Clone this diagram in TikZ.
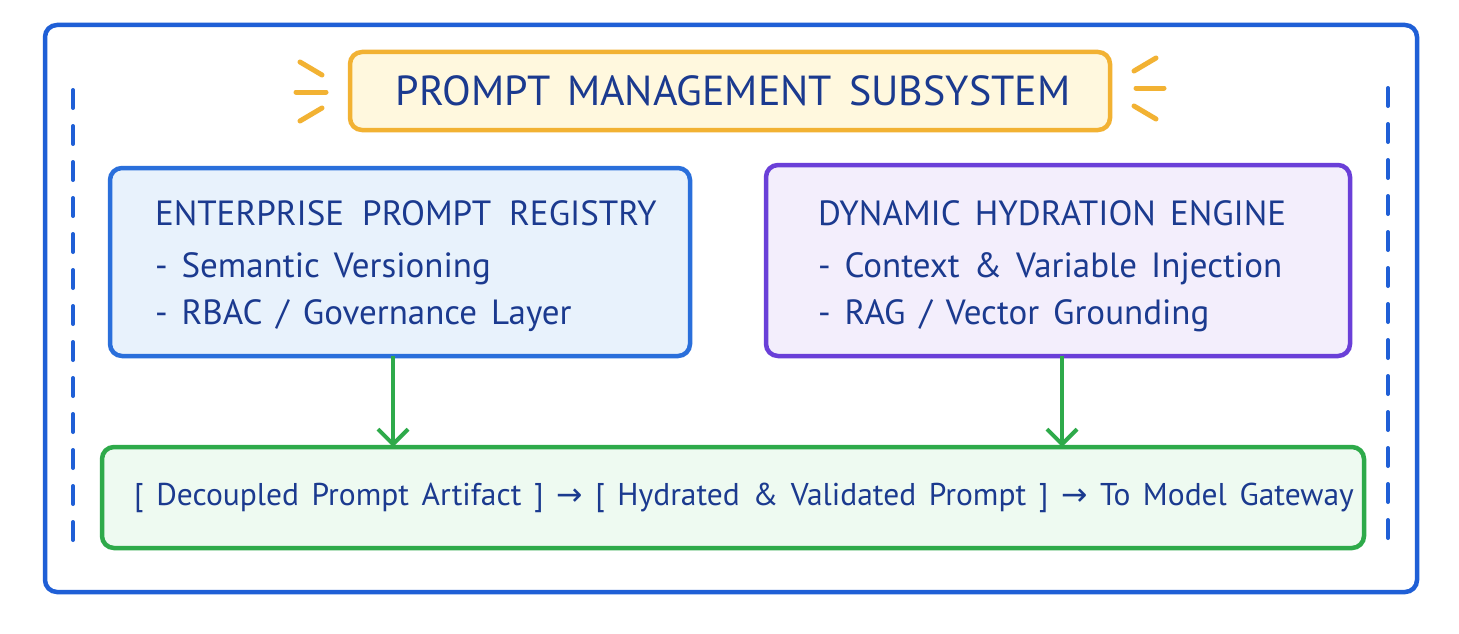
\documentclass[tikz,border=0pt]{standalone}
\usepackage{fontspec}
\setmainfont{PT Sans}[WordSpace=1.5]
\newfontfamily\symf{DejaVu Sans}
\usetikzlibrary{arrows.meta}
\definecolor{ink}{HTML}{1B3A8F}
\definecolor{frameblue}{HTML}{1F5FD6}
\definecolor{regblue}{HTML}{2A6FDB}
\definecolor{regfill}{HTML}{E8F2FC}
\definecolor{purp}{HTML}{6A3FD8}
\definecolor{purpfill}{HTML}{F3EEFC}
\definecolor{grn}{HTML}{2EAA4A}
\definecolor{grnfill}{HTML}{EEFAF1}
\definecolor{gold}{HTML}{F2B233}
\definecolor{goldfill}{HTML}{FFF8DE}
\tikzset{
  boxbase/.style={draw, rounded corners=12pt, line width=4.5pt, inner sep=0pt, outer sep=0pt},
  txt/.style={text=ink, inner sep=0pt, outer sep=0pt},
  bodytxt/.style={txt, anchor=base west, font=\fontsize{35}{35}\selectfont},
  flowarrow/.style={draw=grn, line width=4pt, -{Straight Barb[length=15pt,width=30pt,line width=4pt]}},
  ray/.style={draw=gold, line width=5pt, line cap=round},
  sidedash/.style={draw=frameblue, line width=4pt, line cap=round, dash pattern=on 18pt off 18pt}
}
\begin{document}
\begin{tikzpicture}[x=1pt,y=-1pt]
\useasboundingbox (0,0) rectangle (1459,634);
\fill[white] (0,0) rectangle (1459,634);
% outer frame
\node[boxbase, draw=frameblue, minimum width=1372pt, minimum height=567pt] (outer) at (731,308.5) {};
% side dashes
\coordinate (ldt) at (73,90); \coordinate (ldb) at (73,555);
\coordinate (rdt) at (1388,88); \coordinate (rdb) at (1388,555);
\draw[sidedash] (ldt) -- (ldb);
\draw[sidedash] (rdt) -- (rdb);
% title
\node[boxbase, draw=gold, fill=goldfill, minimum width=760pt, minimum height=78pt] (title) at (730,91) {};
\node[txt, font=\fontsize{42}{42}\selectfont] (titletxt) at (733,91) {PROMPT MANAGEMENT SUBSYSTEM};
% rays
\coordinate (l1a) at (300,62); \coordinate (l1b) at (322,75);
\coordinate (l2a) at (296,92); \coordinate (l2b) at (326,92);
\coordinate (l3a) at (300,121); \coordinate (l3b) at (322,108);
\coordinate (r1a) at (1156,58); \coordinate (r1b) at (1134,71);
\coordinate (r2a) at (1164,88); \coordinate (r2b) at (1136,88);
\coordinate (r3a) at (1156,119); \coordinate (r3b) at (1134,106);
\draw[ray] (l1a) -- (l1b); \draw[ray] (l2a) -- (l2b); \draw[ray] (l3a) -- (l3b);
\draw[ray] (r1a) -- (r1b); \draw[ray] (r2a) -- (r2b); \draw[ray] (r3a) -- (r3b);
% registry
\node[boxbase, draw=regblue, fill=regfill, minimum width=580pt, minimum height=188pt] (reg) at (400,262) {};
\node[bodytxt] (reg1) at (155,225) {ENTERPRISE\hspace{4pt} PROMPT\hspace{4pt} REGISTRY};
\node[bodytxt] (reg2) at (155,277) {- Semantic Versioning};
\node[bodytxt] (reg3) at (155,324) {- RBAC / Governance Layer};
% hydration
\node[boxbase, draw=purp, fill=purpfill, minimum width=584pt, minimum height=191pt] (hyd) at (1058,260.5) {};
\node[bodytxt] (hyd1) at (818,225) {DYNAMIC HYDRATION ENGINE};
\node[bodytxt] (hyd2) at (818,277) {- Context \& Variable Injection};
\node[bodytxt] (hyd3) at (818,324) {- RAG / Vector Grounding};
% bottom
\node[boxbase, draw=grn, fill=grnfill, minimum width=1262pt, minimum height=101pt] (art) at (733,497.5) {};
\node[txt, font=\fontsize{31.5}{31.5}\selectfont] (arttxt) at (744,498) {[ Decoupled Prompt Artifact ] {\symf →} [ Hydrated \& Validated Prompt ] {\symf →} To Model Gateway};
% arrows
\draw[flowarrow] (reg.south -| 393,0) -- (art.north -| 393,0);
\draw[flowarrow] (hyd.south -| 1062,0) -- (art.north -| 1062,0);
\end{tikzpicture}
\end{document}
